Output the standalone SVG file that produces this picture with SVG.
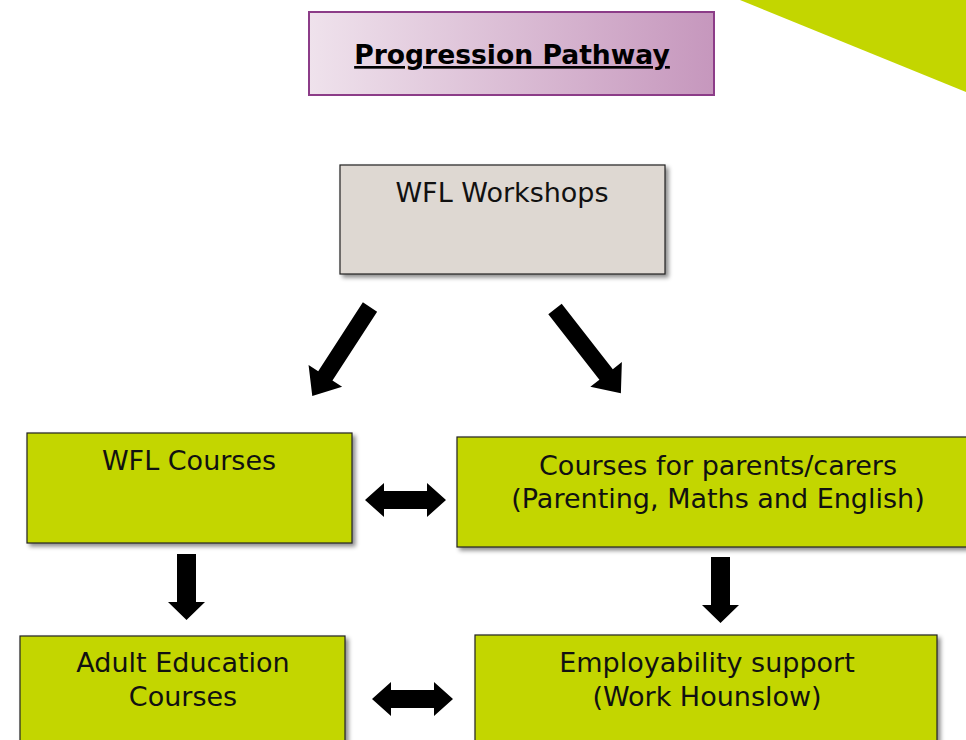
<svg xmlns="http://www.w3.org/2000/svg" width="966" height="740" viewBox="0 0 966 740">
<defs>
<linearGradient id="tg" x1="0" y1="0" x2="1" y2="0">
<stop offset="0" stop-color="#efe2ec"/>
<stop offset="1" stop-color="#c697bd"/>
</linearGradient>
<filter id="sh" x="-10%" y="-10%" width="125%" height="130%">
<feDropShadow dx="3" dy="3" stdDeviation="2" flood-color="#000" flood-opacity="0.45"/>
</filter>
<path id="dn" d="M-9.5,0 H9.5 V48 H18.5 L0,66 L-18.5,48 H-9.5 Z"/>
<path id="dbl" d="M0,0 L19,-17 V-9 H62 V-17 L81,0 L62,17 V9 H19 V17 Z"/>
</defs>
<style>
text{font-family:"DejaVu Sans","Verdana",sans-serif;font-size:27px;fill:#111;text-anchor:middle}
.box{stroke:#222;stroke-width:1.2;filter:url(#sh)}
.g{fill:#c3d600}
.arr{fill:#000}
</style>
<rect width="966" height="740" fill="#fff"/>
<polygon points="740,0 966,0 966,92" fill="#c3d600"/>
<g id="title">
<rect x="309" y="12" width="405" height="83" fill="url(#tg)" stroke="#8c3c88" stroke-width="2"/>
<text x="512" y="64" font-weight="bold" text-decoration="underline" style="font-size:26.6px;fill:#000">Progression Pathway</text>
</g>
<g id="workshops">
<rect class="box" x="340" y="165" width="325" height="109" fill="#ded8d2"/>
<text x="502" y="202">WFL Workshops</text>
</g>
<g id="wflcourses">
<rect class="box g" x="27" y="433" width="325" height="110"/>
<text x="189" y="470">WFL Courses</text>
</g>
<g id="parents">
<rect class="box g" x="457" y="437" width="520" height="110"/>
<text x="718" y="475">Courses for parents/carers</text>
<text x="718" y="508">(Parenting, Maths and English)</text>
</g>
<g id="adult">
<rect class="box g" x="20" y="636" width="325" height="120"/>
<text x="183" y="672">Adult Education</text>
<text x="183" y="706">Courses</text>
</g>
<g id="employ">
<rect class="box g" x="475" y="635" width="462" height="120"/>
<text x="707" y="672">Employability support</text>
<text x="707" y="706">(Work Hounslow)</text>
</g>
<g id="connectors" class="arr">
<path d="M-8.5,0 H8.5 V82 H20 L0,106 L-20,82 H-8.5 Z" transform="translate(370,307) rotate(33)"/>
<path d="M-8.5,0 H8.5 V83 H20 L0,107 L-20,83 H-8.5 Z" transform="translate(555,309) rotate(-38)"/>
<use href="#dn" x="186.5" y="554"/>
<use href="#dn" x="720.5" y="557"/>
<use href="#dbl" x="365" y="500"/>
<use href="#dbl" x="372" y="699"/>
</g>
</svg>
